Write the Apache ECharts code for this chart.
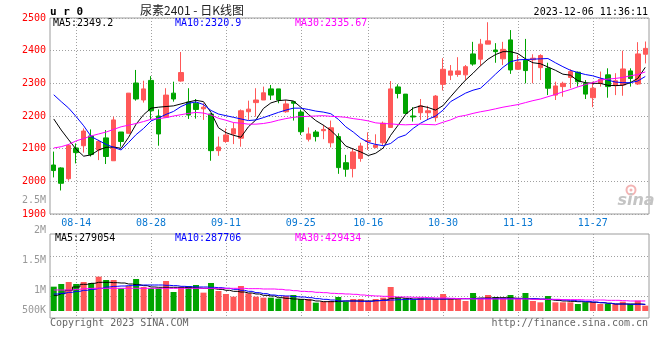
<!DOCTYPE html>
<html><head><meta charset="utf-8">
<script src="https://cdn.jsdelivr.net/npm/echarts@6/dist/echarts.min.js"></script>
<style>html,body{margin:0;padding:0;background:#fff}#c{width:660px;height:360px}</style>
</head><body><div id="c"></div>
<script>
const dates = ['08-09','08-10','08-11','08-14','08-15','08-16','08-17','08-18','08-21','08-22','08-23','08-24','08-25','08-28','08-29','08-30','08-31',
'09-01','09-04','09-05','09-06','09-07','09-08','09-11','09-12','09-13','09-14','09-15','09-18','09-19','09-20','09-21','09-22','09-25','09-26','09-27','09-28',
'10-09','10-10','10-11','10-12','10-13','10-16','10-17','10-18','10-19','10-20','10-23','10-24','10-25','10-26','10-27','10-30','10-31',
'11-01','11-02','11-03','11-06','11-07','11-08','11-09','11-10','11-13','11-14','11-15','11-16','11-17','11-20','11-21','11-22','11-23','11-24','11-27','11-28','11-29','11-30',
'12-01','12-04','12-05','12-06'];
const opens = [2050,2041,2008,2102,2109,2139,2096,2133,2063,2151,
 2147,2301,2249,2309,2200,2196,2270,2307,2243,2239,
 2222,2206,2094,2122,2145,2132,2213,2241,2249,2283,
 2283,2213,2244,2212,2129,2151,2155,2118,2137,2057,
 2039,2070,2122,2104,2118,2165,2289,2267,2200,2210,
 2210,2195,2297,2325,2327,2326,2390,2374,2420,2402,
 2375,2433,2343,2370,2372,2348,2346,2264,2290,2318,
 2334,2300,2256,2300,2326,2293,2295,2338,2298,2389];
const closes = [2033,1994,2110,2088,2154,2082,2122,2076,2188,2122,
 2270,2252,2283,2216,2145,2264,2252,2333,2203,2220,
 2227,2094,2105,2142,2161,2216,2221,2249,2271,2264,
 2249,2237,2239,2152,2145,2137,2159,2164,2042,2037,
 2090,2108,2125,2111,2178,2283,2269,2208,2197,2231,
 2216,2261,2343,2338,2338,2351,2359,2420,2430,2397,
 2404,2341,2365,2339,2377,2385,2285,2292,2300,2336,
 2305,2267,2285,2312,2290,2308,2344,2315,2390,2407];
const lows = [2012,1972,2002,2055,2088,2076,2065,2053,2063,2106,
 2147,2247,2241,2190,2109,2196,2244,2305,2191,2192,
 2188,2063,2078,2118,2114,2106,2188,2198,2249,2249,
 2239,2210,2186,2142,2122,2122,2129,2104,2023,2014,
 2012,2060,2096,2101,2111,2165,2254,2206,2183,2188,
 2188,2183,2278,2310,2320,2310,2354,2353,2420,2363,
 2356,2329,2341,2300,2300,2310,2264,2249,2259,2285,
 2290,2252,2227,2290,2256,2264,2262,2290,2295,2361];
const highs = [2091,2043,2114,2116,2162,2159,2127,2157,2198,2151,
 2270,2341,2308,2322,2220,2285,2305,2396,2285,2252,
 2239,2208,2137,2162,2180,2220,2247,2285,2290,2295,
 2283,2249,2244,2220,2165,2157,2173,2186,2147,2081,
 2101,2118,2150,2144,2183,2307,2297,2267,2227,2252,
 2231,2264,2377,2356,2380,2356,2427,2436,2487,2423,
 2427,2463,2387,2436,2389,2389,2363,2305,2305,2343,
 2336,2310,2305,2336,2346,2331,2400,2346,2426,2428];
const ma5 = [2191,2157,2127,2098,2077,2081,2096,2104,2105,2101,
 2135,2175,2204,2224,2227,2229,2231,2237,2243,2248,
 2244,2211,2164,2149,2141,2135,2167,2188,2223,2240,
 2247,2249,2246,2227,2205,2186,2172,2156,2134,2108,
 2099,2090,2079,2086,2102,2141,2172,2205,2224,2231,
 2226,2218,2232,2259,2285,2310,2331,2354,2374,2388,
 2397,2397,2391,2375,2363,2360,2350,2340,2328,2325,
 2308,2302,2300,2300,2294,2293,2294,2302,2315,2349];
const ma10 = [2265,2244,2224,2198,2170,2137,2125,2113,2104,2096,
 2119,2143,2162,2185,2194,2205,2214,2229,2239,2243,
 2235,2217,2206,2201,2196,2191,2186,2188,2195,2203,
 2211,2218,2224,2224,2220,2215,2212,2207,2190,2167,
 2151,2132,2119,2113,2109,2116,2134,2142,2162,2178,
 2190,2200,2218,2244,2257,2270,2279,2285,2306,2328,
 2349,2366,2372,2373,2374,2375,2376,2363,2351,2340,
 2333,2327,2323,2316,2310,2304,2302,2302,2307,2321];
const ma30 = [2102,2106,2113,2124,2131,2139,2145,2151,2159,2167,
 2172,2177,2183,2190,2192,2195,2200,2204,2208,2211,
 2209,2203,2193,2187,2180,2178,2175,2175,2177,2181,
 2187,2192,2196,2198,2199,2200,2201,2199,2198,2196,
 2192,2189,2185,2179,2177,2176,2174,2173,2174,2175,
 2174,2173,2181,2188,2198,2202,2208,2213,2217,2222,
 2227,2231,2235,2241,2247,2252,2259,2266,2274,2281,
 2289,2296,2302,2310,2313,2315,2318,2323,2327,2335];
const volumes = [1043000,1157000,1243000,1157000,1243000,1200000,1471000,1329000,1329000,971000,
 1071000,1371000,1029000,971000,971000,1286000,814000,1000000,1071000,1114000,
 786000,1200000,857000,729000,614000,1071000,757000,614000,571000,571000,
 529000,643000,686000,514000,514000,357000,400000,429000,600000,400000,
 514000,514000,429000,514000,571000,1029000,600000,543000,486000,543000,
 486000,514000,729000,514000,514000,429000,771000,514000,686000,600000,
 514000,686000,514000,771000,429000,371000,643000,371000,371000,371000,
 300000,371000,371000,300000,300000,300000,400000,300000,443000,229000];
const volMa5 = [671000,743000,886000,1029000,1143000,1186000,1229000,1229000,1214000,1200000,
 1157000,1129000,1086000,1029000,1014000,1014000,1014000,1014000,1000000,986000,
 971000,957000,929000,886000,843000,814000,771000,729000,671000,643000,
 571000,543000,514000,500000,471000,429000,400000,400000,414000,429000,
 429000,429000,429000,443000,471000,543000,571000,543000,514000,514000,
 514000,514000,514000,514000,529000,529000,543000,557000,557000,571000,
 571000,557000,543000,529000,514000,500000,486000,457000,429000,414000,
 400000,386000,371000,357000,329000,300000,300000,300000,300000,279054];
const volMa10 = [729000,757000,800000,843000,886000,929000,971000,1029000,1057000,1071000,
 1086000,1100000,1114000,1114000,1114000,1100000,1086000,1057000,1043000,1029000,
 1029000,1014000,1000000,971000,929000,886000,843000,786000,743000,686000,
 657000,643000,614000,600000,571000,529000,500000,471000,429000,429000,
 429000,414000,414000,443000,457000,471000,486000,500000,500000,514000,
 514000,514000,514000,529000,529000,529000,529000,529000,529000,529000,
 529000,529000,529000,529000,529000,514000,500000,486000,471000,457000,
 429000,414000,386000,357000,329000,300000,300000,286000,286000,287706];
const volMa30 = [900000,900000,900000,929000,957000,971000,971000,971000,971000,971000,
 971000,971000,971000,971000,971000,971000,971000,971000,971000,971000,
 971000,971000,971000,971000,971000,971000,957000,957000,943000,943000,
 929000,900000,871000,843000,829000,800000,786000,757000,743000,729000,
 714000,686000,657000,643000,629000,614000,600000,600000,586000,586000,
 571000,557000,557000,543000,529000,529000,514000,514000,514000,514000,
 514000,514000,514000,514000,500000,500000,500000,500000,486000,486000,
 486000,471000,471000,471000,457000,457000,443000,429000,429000,429434];
const xLabelDates = ['08-14','08-28','09-11','09-25','10-16','10-30','11-13','11-27'];
const priceMin = 1900, priceMax = 2500, priceStep = 100;
const volTickLabels = ['2.5M','2M','1.5M','1M','500K'];
const titleCode = 'u r 0';
const titleName = '尿素2401 - 日K线图';
const stamp = '2023-12-06 11:36:11';
const priceMaTexts = ['MA5:2349.2','MA10:2320.9','MA30:2335.67'];
const volMaTexts = ['MA5:279054','MA10:287706','MA30:429434'];
const footLeft = 'Copyright 2023 SINA.COM';
const footRight = 'http://finance.sina.com.cn';

const MONO = "'DejaVu Sans Mono', monospace";
const RED = '#ff5858', GREEN = '#00a400';
const MA_COLORS = ['#000000', '#0000ff', '#ff00ff'];
const GRID_COLOR = '#a0a0a0';
const dotted = {color:GRID_COLOR, width:1, type:[1,2]};
const volMin = -300000, volMax = 3300000;
const volGridValues = [656000, 1513000, 2370000];
const volTickY = [200.5, 230.5, 260.5, 290.5, 310.5];
const GRID_MAIN = {left:50, right:11, top:18, height:196};
const GRID_VOL = {left:50, right:11, top:234, height:84};

const chart = echarts.init(document.getElementById('c'), null, {renderer:'canvas'});
function txt(x, y, text, fill, font, align) {
  return {type:'text', x:x, y:y, silent:true, z:100,
    style:{text:text, fill:fill, font:font || ('10px ' + MONO),
      textAlign:align || 'left', textVerticalAlign:'middle', align:align || 'left', verticalAlign:'middle'}};
}
const graphics = [
  txt(50, 12, titleCode, '#000', 'bold 11px ' + MONO),
  txt(140, 10, titleName, '#222', "12px 'Noto Sans CJK SC', sans-serif"),
  txt(648, 12, stamp, '#000', null, 'right'),
  txt(53, 23.5, priceMaTexts[0], MA_COLORS[0]),
  txt(175, 23.5, priceMaTexts[1], MA_COLORS[1]),
  txt(295, 23.5, priceMaTexts[2], MA_COLORS[2]),
  txt(55, 238.5, volMaTexts[0], MA_COLORS[0]),
  txt(175, 238.5, volMaTexts[1], MA_COLORS[1]),
  txt(295, 238.5, volMaTexts[2], MA_COLORS[2]),
  txt(50, 323.5, footLeft, '#666'),
  txt(648, 323.5, footRight, '#666', null, 'right'),
  {type:'circle', silent:true, z:1, shape:{cx:631, cy:190, r:4.5}, style:{fill:'none', stroke:'#f3b4b4', lineWidth:2}},
  {type:'circle', silent:true, z:1, shape:{cx:631, cy:190, r:1.5}, style:{fill:'#f3b4b4'}},
  txt(636, 201, 'sina', '#c4c4c4', "italic bold 16px 'DejaVu Sans', sans-serif", 'center')
];
volTickLabels.forEach((t, i) => graphics.push(txt(46, volTickY[i], t, '#999', null, 'right')));

const candleData = dates.map((d, i) => [opens[i], closes[i], lows[i], highs[i]]);
const volData = volumes.map((v, i) => ({value:v, itemStyle:{color: closes[i] >= opens[i] ? RED : GREEN}}));
function maLine(name, data, color, xi, yi, step) {
  return {name:name, type:'line', xAxisIndex:xi, yAxisIndex:yi, data:data, showSymbol:false, symbol:'none',
    step: step || false, z:5, lineStyle:{color:color, width:1}, itemStyle:{color:color}, silent:true};
}
const labelDateFilter = (i, v) => xLabelDates.indexOf(v) >= 0 || xLabelDates.indexOf(dates[i]) >= 0;

chart.setOption({
  animation:false,
  backgroundColor:'#fff',
  textStyle:{fontFamily:MONO},
  grid:[
    Object.assign({show:true, borderColor:'#9c9c9c', borderWidth:1}, GRID_MAIN),
    Object.assign({show:true, borderColor:'#9c9c9c', borderWidth:1}, GRID_VOL)
  ],
  xAxis:[
    {type:'category', gridIndex:0, data:dates, boundaryGap:true,
     axisLine:{show:false}, axisTick:{show:false}, splitLine:{show:false},
     axisLabel:{interval:labelDateFilter, color:'#0a78d2', fontFamily:MONO, fontSize:10, margin:4}},
    {type:'category', gridIndex:1, data:dates, boundaryGap:true,
     axisLine:{show:false}, axisTick:{show:false}, splitLine:{show:false}, axisLabel:{show:false}}
  ],
  yAxis:[
    {type:'value', gridIndex:0, min:priceMin, max:priceMax, interval:priceStep,
     axisLine:{show:false}, axisTick:{show:false},
     splitLine:{show:true, lineStyle:dotted},
     axisLabel:{color:'#ff0000', fontFamily:MONO, fontSize:10, margin:4, formatter:(v) => String(v)}},
    {type:'value', gridIndex:1, min:volMin, max:volMax,
     axisLine:{show:false}, axisTick:{show:false}, splitLine:{show:false}, axisLabel:{show:false}}
  ],
  graphic:graphics,
  series:[
    {type:'candlestick', xAxisIndex:0, yAxisIndex:0, data:candleData, barWidth:5, z:3, silent:true,
     itemStyle:{color:RED, color0:GREEN, borderColor:RED, borderColor0:GREEN, borderWidth:1}},
    maLine('MA5', ma5, MA_COLORS[0], 0, 0),
    maLine('MA10', ma10, MA_COLORS[1], 0, 0),
    maLine('MA30', ma30, MA_COLORS[2], 0, 0),
    {type:'bar', xAxisIndex:1, yAxisIndex:1, data:volData, barWidth:6, z:3, silent:true},
    maLine('VMA5', volMa5, MA_COLORS[0], 1, 1, 'middle'),
    maLine('VMA10', volMa10, MA_COLORS[1], 1, 1, 'middle'),
    maLine('VMA30', volMa30, MA_COLORS[2], 1, 1, 'middle')
  ]
});

/* dotted gridlines: positions from the chart's scales, with the grid layout as a fallback */
const crisp = (v) => Math.round(v) + 0.5;
function safePixel(finder, value) {
  try {
    const p = chart.convertToPixel(finder, value);
    if (p && isFinite(p[0]) && isFinite(p[1])) return p;
  } catch (e) {}
  return null;
}
const plotWidth = chart.getWidth() - GRID_MAIN.left - GRID_MAIN.right;
const band = plotWidth / dates.length;
function xOf(seriesIndex, i, v) {
  const p = safePixel({seriesIndex:seriesIndex}, [i, v]);
  return p ? p[0] : GRID_MAIN.left + (i + 0.5) * band;
}
function volY(v) {
  const p = safePixel({seriesIndex:4}, [0, v]);
  return p ? p[1] : GRID_VOL.top + GRID_VOL.height * (volMax - v) / (volMax - volMin);
}
function dashLine(x1, y1, x2, y2) {
  return {type:'line', silent:true, z:1,
    shape:{x1:x1, y1:y1, x2:x2, y2:y2},
    style:{stroke:GRID_COLOR, lineWidth:1, lineDash:[1, 2]}};
}
const gridLines = [];
xLabelDates.forEach((d) => {
  const i = dates.indexOf(d);
  const x0 = crisp(xOf(0, i, priceMax));
  gridLines.push(dashLine(x0, GRID_MAIN.top, x0, GRID_MAIN.top + GRID_MAIN.height));
  const x1 = crisp(xOf(4, i, 0));
  gridLines.push(dashLine(x1, GRID_VOL.top, x1, GRID_VOL.top + GRID_VOL.height));
});
volGridValues.forEach((v) => {
  const y = crisp(volY(v));
  gridLines.push(dashLine(GRID_VOL.left, y, GRID_VOL.left + plotWidth, y));
});
chart.setOption({graphic: graphics.concat(gridLines)});
</script>
</body></html>
